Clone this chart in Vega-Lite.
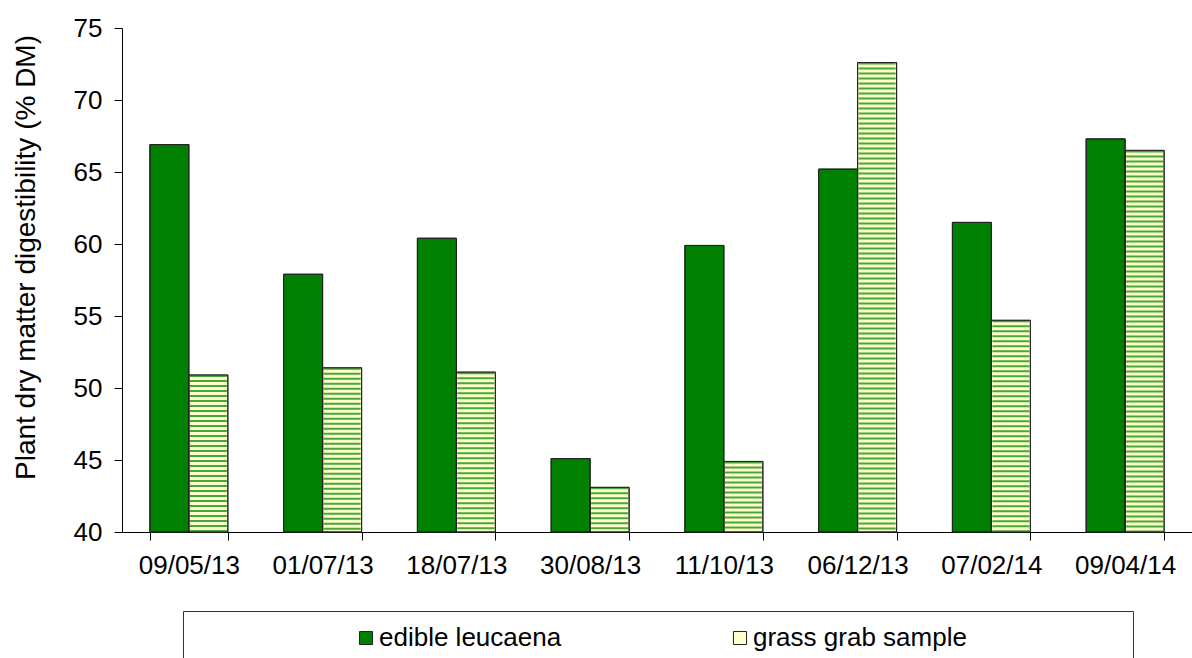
{
  "$schema": "https://vega.github.io/schema/vega-lite/v6.json",
  "width": 1070,
  "height": 504,
  "autosize": {"type": "none"},
  "padding": {"left": 122, "top": 28, "right": 0, "bottom": 126},
  "background": "#ffffff",
  "config": {
    "view": {"stroke": null},
    "font": "Liberation Sans",
    "axis": {"domainColor": "#000000", "tickColor": "#000000", "labelColor": "#000000", "titleColor": "#000000", "grid": false, "labelFont": "Liberation Sans", "titleFont": "Liberation Sans", "titleFontWeight": "normal"}
  },
  "data": {
    "values": [
      {"date": "09/05/13", "series": "edible leucaena", "value": 66.9},
      {"date": "09/05/13", "series": "grass grab sample", "value": 50.9},
      {"date": "01/07/13", "series": "edible leucaena", "value": 57.9},
      {"date": "01/07/13", "series": "grass grab sample", "value": 51.4},
      {"date": "18/07/13", "series": "edible leucaena", "value": 60.4},
      {"date": "18/07/13", "series": "grass grab sample", "value": 51.1},
      {"date": "30/08/13", "series": "edible leucaena", "value": 45.1},
      {"date": "30/08/13", "series": "grass grab sample", "value": 43.1},
      {"date": "11/10/13", "series": "edible leucaena", "value": 59.9},
      {"date": "11/10/13", "series": "grass grab sample", "value": 44.9},
      {"date": "06/12/13", "series": "edible leucaena", "value": 65.2},
      {"date": "06/12/13", "series": "grass grab sample", "value": 72.6},
      {"date": "07/02/14", "series": "edible leucaena", "value": 61.5},
      {"date": "07/02/14", "series": "grass grab sample", "value": 54.7},
      {"date": "09/04/14", "series": "edible leucaena", "value": 67.3},
      {"date": "09/04/14", "series": "grass grab sample", "value": 66.5}
    ]
  },
  "encoding": {
    "x": {
      "field": "date", "type": "nominal", "sort": null,
      "scale": {"paddingInner": 0.417, "paddingOuter": 0.2085},
      "axis": {"title": null, "labelAngle": 0, "tickBand": "extent", "tickSize": 8, "labelPadding": 12, "labelFontSize": 26}
    },
    "xOffset": {"field": "series", "type": "nominal", "scale": {"paddingInner": 0, "paddingOuter": 0}},
    "y": {
      "field": "value", "type": "quantitative",
      "scale": {"domain": [40, 75], "nice": false, "zero": false},
      "axis": {"values": [40, 45, 50, 55, 60, 65, 70, 75], "title": "Plant dry matter digestibility (% DM)", "titleFontSize": 28, "titleX": -82, "titleY": 229, "labelFontSize": 26, "tickSize": 8, "labelPadding": 12}
    }
  },
  "layer": [
    {
      "mark": {"type": "bar", "stroke": "#222222", "strokeWidth": 1},
      "encoding": {
        "y2": {"datum": 40},
        "color": {
          "field": "series", "type": "nominal",
          "scale": {"domain": ["edible leucaena", "grass grab sample"], "range": ["#008000", "#FFFFCC"]},
          "legend": {
            "orient": "none", "legendX": 61, "legendY": 583, "direction": "horizontal", "columns": 2,
            "title": " ", "titleOrient": "left", "titleFontSize": 10, "titlePadding": 156,
            "padding": 14, "strokeColor": "#333333",
            "symbolType": "square", "symbolSize": 170, "symbolStrokeColor": "#222222", "symbolStrokeWidth": 1,
            "labelFontSize": 26, "labelFont": "Liberation Sans", "labelColor": "#000000", "labelOffset": 0, "labelLimit": 600, "columnPadding": 165,
            "labelExpr": "datum.label === 'grass grab sample' ? datum.label + '\u00a0\u00a0\u00a0\u00a0\u00a0\u00a0\u00a0\u00a0\u00a0\u00a0\u00a0\u00a0\u00a0\u00a0\u00a0\u00a0\u00a0\u00a0\u00a0\u00a0\u00a0\u200b' : datum.label"
          }
        }
      }
    },
    {
      "transform": [{"filter": "datum.series === 'grass grab sample'"}],
      "mark": {"type": "rule", "strokeDash": [2, 3], "strokeWidth": 37, "color": "#47a83a", "strokeCap": "butt"},
      "encoding": {"y2": {"datum": 40}}
    },
    {
      "mark": {"type": "bar", "fillOpacity": 0, "stroke": "#222222", "strokeWidth": 1},
      "encoding": {"y2": {"datum": 40}}
    }
  ]
}
